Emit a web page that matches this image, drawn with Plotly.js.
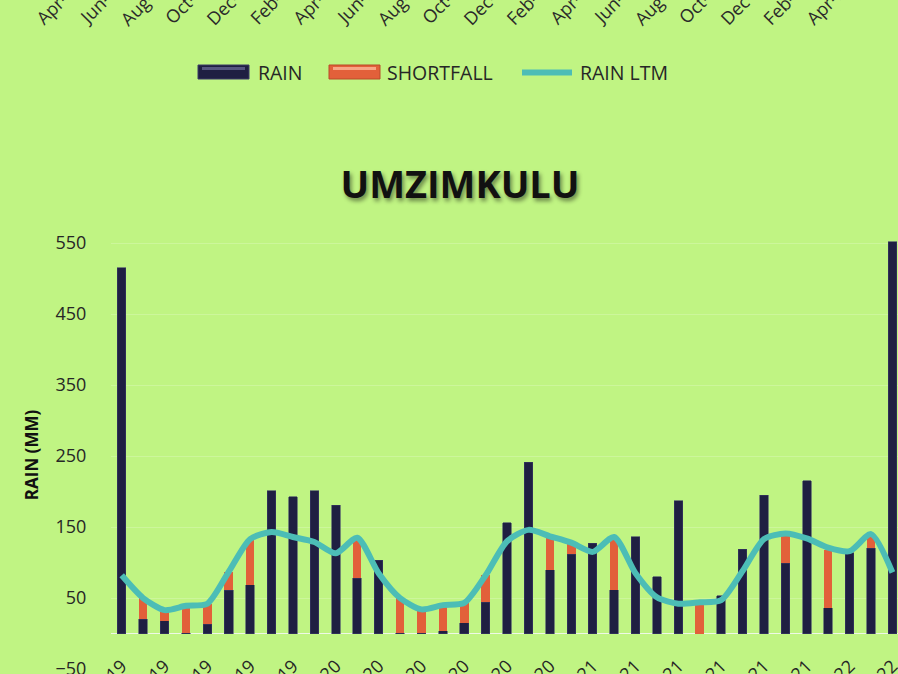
<!DOCTYPE html>
<html><head><meta charset="utf-8">
<script src="https://cdn.plot.ly/plotly-3.0.1.min.js"></script>
<style>html,body{margin:0;padding:0;background:#c0f483;overflow:hidden}#chart{width:898px;height:674px}</style>
</head><body><div id="chart"></div>
<script>
// ---- data ----
const categories = ["Apr-19","May-19","Jun-19","Jul-19","Aug-19","Sep-19","Oct-19","Nov-19","Dec-19",
  "Jan-20","Feb-20","Mar-20","Apr-20","May-20","Jun-20","Jul-20","Aug-20","Sep-20","Oct-20","Nov-20","Dec-20",
  "Jan-21","Feb-21","Mar-21","Apr-21","May-21","Jun-21","Jul-21","Aug-21","Sep-21","Oct-21","Nov-21","Dec-21",
  "Jan-22","Feb-22","Mar-22","Apr-22"];
const rain = [515, 20, 18, 1, 13, 61, 69, 201, 193,
  201, 181, 78, 103, 1, 1, 4, 15, 44, 156, 241, 90,
  112, 127, 62, 136, 80, 187, 0, 53, 119, 195, 99, 215,
  36, 114, 120, 552];
const shortfall = [0, 30, 15, 38, 29, 26, 64, 0, 0,
  0, 0, 57, 0, 49, 33, 36, 28, 38, 0, 0, 44,
  16, 0, 72, 0, 0, 0, 44, 0, 0, 0, 39, 0,
  82, 0, 20, 0];
const rainLTM = [82, 50, 33, 39, 42, 87, 133, 143, 136,
  129, 113, 135, 85, 50, 34, 40, 43, 82, 130, 146, 137,
  128, 115, 136, 85, 51, 42, 44, 47, 88, 133, 141, 134,
  121, 116, 140, 86];
const tickLabels = ["Apr-19","Jun-19","Aug-19","Oct-19","Dec-19","Feb-20","Apr-20","Jun-20","Aug-20","Oct-20",
  "Dec-20","Feb-21","Apr-21","Jun-21","Aug-21","Oct-21","Dec-21","Feb-22","Apr-22"];
const yTicks = [-50, 50, 150, 250, 350, 450, 550];
const seriesNames = ["RAIN", "SHORTFALL", "RAIN LTM"];

// ---- layout geometry ----
const W = 898, H = 674, mL = 111, mR = 0, mT = 241, mB = 5;
const yRange = [-50, 553];
const xRange = [-0.5, 36.26];
const plotW = W - mL - mR, plotH = H - mT - mB;
const pxX = px => (px - mL) / plotW;
const pxY = py => (H - mB - py) / plotH;
const FONT = "Open Sans, Arial, sans-serif";
const BG = "#c0f483";
const C_RAIN = "#1f1f42", C_SHORT = "#e2603a", C_LTM = "#4cbdb6";

// labels of the chart above (cropped at the top of the picture)
const annotations = tickLabels.map((t, k) => ({
  text: t, xref: "paper", yref: "paper",
  x: pxX(59 + 42.8 * k), y: pxY(1),
  xanchor: "center", yanchor: "middle", textangle: -45, showarrow: false,
  font: {family: FONT, size: 18, color: "#2a2a2a"}
}));

// legend (drawn as swatches + text to match the wide Excel swatches)
const legendText = [256, 385, 578];
seriesNames.forEach((n, i) => annotations.push({
  text: n, xref: "paper", yref: "paper", x: pxX(legendText[i]), y: pxY(72),
  xanchor: "left", yanchor: "middle", showarrow: false,
  font: {family: FONT, size: 19.5, color: "#262626"}
}));
const shapes = [
  {type: "rect", xref: "paper", yref: "paper", x0: pxX(198), x1: pxX(249), y0: pxY(79), y1: pxY(65),
   fillcolor: C_RAIN, line: {color: "#3d3d66", width: 1}},
  {type: "rect", xref: "paper", yref: "paper", x0: pxX(202), x1: pxX(245), y0: pxY(70), y1: pxY(67),
   fillcolor: "rgba(130,130,180,0.55)", line: {width: 0}},
  {type: "rect", xref: "paper", yref: "paper", x0: pxX(329), x1: pxX(380), y0: pxY(79), y1: pxY(65),
   fillcolor: C_SHORT, line: {color: "#b94a28", width: 1}},
  {type: "rect", xref: "paper", yref: "paper", x0: pxX(333), x1: pxX(376), y0: pxY(70), y1: pxY(67),
   fillcolor: "rgba(255,190,160,0.75)", line: {width: 0}},
  {type: "line", xref: "paper", yref: "paper", x0: pxX(522), x1: pxX(572), y0: pxY(72.5), y1: pxY(72.5),
   line: {color: C_LTM, width: 6, cap: "round"}}
];

const traces = [
  {type: "bar", name: seriesNames[0], x: categories, y: rain,
   marker: {color: C_RAIN, line: {color: "#3b3b66", width: 0.6}}},
  {type: "bar", name: seriesNames[1], x: categories, y: shortfall,
   marker: {color: C_SHORT, line: {width: 0}}},
  {type: "scatter", mode: "lines", name: seriesNames[2], x: categories, y: rainLTM,
   line: {color: C_LTM, width: 6, shape: "spline", smoothing: 0.7}}
];

const layout = {
  width: W, height: H,
  margin: {l: mL, r: mR, t: mT, b: mB, pad: 0},
  paper_bgcolor: BG, plot_bgcolor: BG,
  barmode: "stack", bargap: 0.6,
  font: {family: FONT, color: "#262626"},
  title: {text: "UMZIMKULU", xref: "container", yref: "container",
    x: 460 / W, y: 1 - 185 / H, xanchor: "center", yanchor: "middle",
    font: {family: FONT, size: 38, weight: 700, color: "#111",
      shadow: "2px 3px 4px rgba(0,0,0,0.45)"}},
  showlegend: false,
  xaxis: {type: "category", range: xRange, anchor: "free",
    position: (0 - yRange[0]) / (yRange[1] - yRange[0]),
    tickmode: "array", tickvals: tickLabels, ticktext: tickLabels, tickangle: -45,
    ticks: "outside", ticklen: 14, tickcolor: "rgba(0,0,0,0)", ticklabeloverflow: "allow",
    tickfont: {family: FONT, size: 18, color: "#262626"},
    showline: false, showgrid: false, zeroline: false, automargin: false, fixedrange: true},
  yaxis: {range: yRange, tickmode: "array", tickvals: yTicks,
    ticks: "outside", ticklen: 20, tickcolor: "rgba(0,0,0,0)", ticklabeloverflow: "allow",
    tickfont: {family: FONT, size: 18, color: "#262626"},
    showgrid: true, gridcolor: "rgba(255,255,255,0.2)", gridwidth: 1,
    zeroline: true, zerolinecolor: "rgba(240,248,235,0.95)", zerolinewidth: 1.6,
    showline: false, automargin: false,
    title: {text: "RAIN (MM)", standoff: 12, font: {family: FONT, size: 17, weight: 700, color: "#111"}}},
  annotations: annotations,
  shapes: shapes
};

Plotly.newPlot("chart", traces, layout, {staticPlot: true, displayModeBar: false});
</script></body></html>
